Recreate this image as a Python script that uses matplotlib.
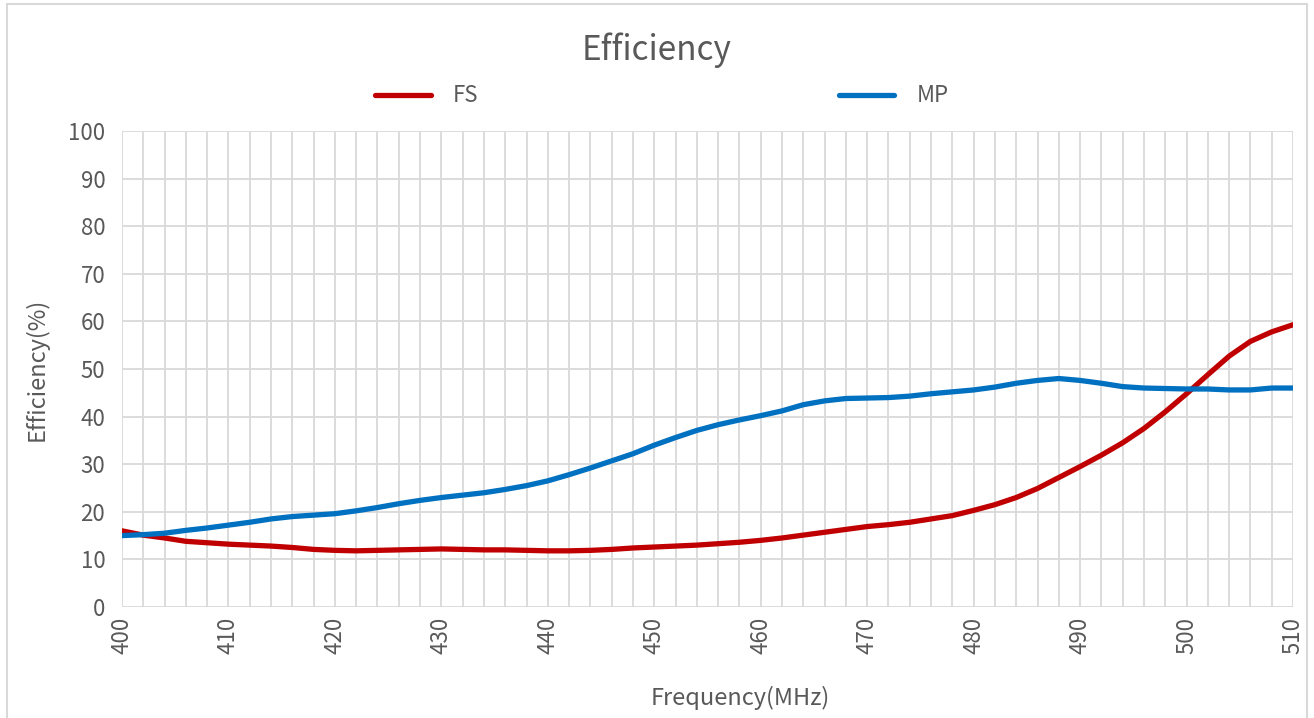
import numpy as np
import matplotlib
matplotlib.use('Agg')
import matplotlib.pyplot as plt
from matplotlib.patches import Rectangle

plt.rcParams['font.family'] = ['Noto Sans CJK SC', 'DejaVu Sans']

# frequency points (MHz)
freq = list(range(400, 511, 2))

fs = [16.0, 15.1, 14.5, 13.8, 13.5, 13.2, 13.0, 12.8, 12.5, 12.1,
      11.9, 11.8, 11.9, 12.0, 12.1, 12.2, 12.1, 12.0, 12.0, 11.9,
      11.8, 11.8, 11.9, 12.1, 12.4, 12.6, 12.8, 13.0, 13.3, 13.6,
      14.0, 14.5, 15.1, 15.7, 16.3, 16.9, 17.3, 17.8, 18.5, 19.2,
      20.3, 21.5, 23.0, 24.9, 27.2, 29.5, 31.9, 34.5, 37.5, 41.0,
      44.8, 48.8, 52.7, 55.8, 57.8, 59.3]

mp = [15.0, 15.2, 15.5, 16.1, 16.6, 17.2, 17.8, 18.5, 19.0, 19.3,
      19.6, 20.2, 20.9, 21.7, 22.4, 23.0, 23.5, 24.0, 24.7, 25.5,
      26.5, 27.8, 29.2, 30.7, 32.2, 34.0, 35.6, 37.1, 38.3, 39.3,
      40.2, 41.2, 42.5, 43.3, 43.8, 43.9, 44.0, 44.3, 44.8, 45.2,
      45.6, 46.2, 47.0, 47.6, 48.0, 47.6, 47.0, 46.3, 46.0, 45.9,
      45.8, 45.8, 45.6, 45.6, 46.0, 46.0]

xticks = [400, 410, 420, 430, 440, 450, 460, 470, 480, 490, 500, 510]
yticks = [0, 10, 20, 30, 40, 50, 60, 70, 80, 90, 100]

grey = '#595959'
gridc = '#D9D9D9'

fig = plt.figure(figsize=(13.14, 7.18), dpi=100)
ax = fig.add_axes([122/1314, 1 - 607/718, (1293-122)/1314, (607-131)/718])

ax.plot(freq, fs, color='#C00000', lw=3.8, label='FS', solid_capstyle='round',
        solid_joinstyle='round')
ax.plot(freq, mp, color='#0070C0', lw=3.8, label='MP', solid_capstyle='round',
        solid_joinstyle='round')

ax.set_xlim(400, 510)
ax.set_ylim(0, 100)
ax.set_xticks(xticks)
ax.set_xticks(np.arange(400, 511, 2), minor=True)
ax.set_yticks(yticks)
ax.grid(True, which='both', axis='x', color=gridc, lw=1.3)
ax.grid(True, which='major', axis='y', color=gridc, lw=1.3)
ax.set_axisbelow(True)
for s in ax.spines.values():
    s.set_visible(False)
ax.tick_params(which='both', length=0, colors=grey, labelsize=16)
ax.tick_params(axis='x', pad=7)
ax.tick_params(axis='y', pad=12)
plt.setp(ax.get_xticklabels(), rotation=90)

ax.set_xlabel('Frequency(MHz)', fontsize=17, color=grey)
ax.xaxis.set_label_coords((740-122)/1171, -0.165)
ax.set_ylabel('Efficiency(%)', fontsize=17, color=grey)
ax.yaxis.set_label_coords(-0.063, 0.5)

fig.text(0.5, 1 - 50/718, 'Efficiency', ha='center', va='center', fontsize=24, color=grey)

leg = fig.legend(loc='center', bbox_to_anchor=(662/1314, 1 - 96/718), ncol=2,
                 frameon=False, fontsize=16, handlelength=2.5, handletextpad=1.0,
                 columnspacing=16.2)
for t in leg.get_texts():
    t.set_color(grey)

# outer chart border
fig.patches.append(Rectangle((7/1314, -0.01), 1300/1314, 1 - 4/718 + 0.01,
                             transform=fig.transFigure, fill=False,
                             edgecolor=gridc, lw=1.5))

fig.savefig('out.png', dpi=100)
